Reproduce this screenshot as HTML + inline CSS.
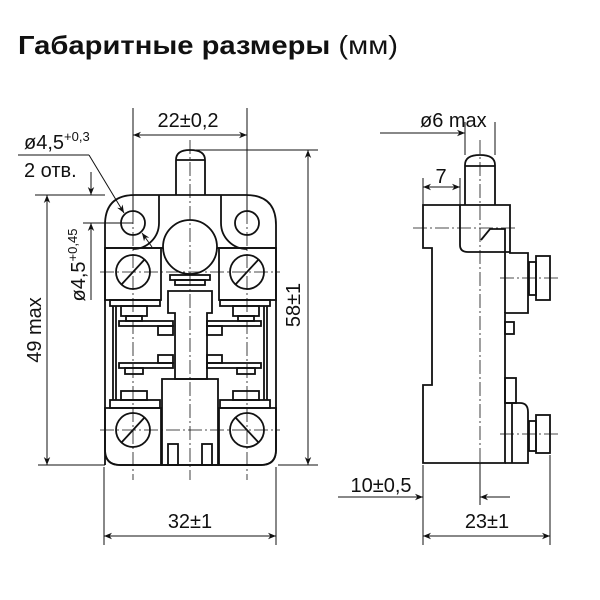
<!DOCTYPE html>
<html><head><meta charset="utf-8"><style>
html,body{margin:0;padding:0;background:#fff;width:600px;height:600px;overflow:hidden}
svg{display:block}
text{font-family:"Liberation Sans","DejaVu Sans",sans-serif;fill:#111}
</style></head><body>
<svg width="600" height="600" viewBox="0 0 600 600" xmlns="http://www.w3.org/2000/svg">
<defs>
<marker id="a" viewBox="0 0 10 10" refX="10" refY="5" markerWidth="10" markerHeight="8" orient="auto-start-reverse" markerUnits="userSpaceOnUse"><path d="M0,1 L10,5 L0,9 L3,5z" fill="#111"/></marker>
</defs>
<text x="18" y="54" font-size="26" font-weight="bold" textLength="380" lengthAdjust="spacingAndGlyphs">Габаритные размеры <tspan font-weight="normal">(мм)</tspan></text>

<g fill="none" stroke="#111" stroke-width="1.8">
<!-- front view body -->
<path d="M105,465 V225 Q105,195 135,195 H246 Q276,195 276,225 V450 Q276,465 261,465 H120 Q105,465 105,450 Z"/>
<path d="M176,195 V160 Q176,150 190,150 Q205,150 205,160 V195"/>
<line x1="176" y1="160" x2="205" y2="160"/>
<line x1="159" y1="195" x2="159" y2="223"/><line x1="221" y1="195" x2="221" y2="223"/>
<line x1="105" y1="248" x2="163" y2="248"/><line x1="217" y1="248" x2="276" y2="248"/>
<path d="M159,223 A26,26 0 0 1 133,249"/>
<path d="M221,223 A26,26 0 0 0 247,249"/>
<circle cx="133" cy="223" r="12"/><circle cx="247" cy="223" r="12"/>
<circle cx="190" cy="247" r="27"/>
<!-- upper screw blocks -->
<rect x="105" y="248" width="56" height="52"/><rect x="219" y="248" width="57" height="52"/>
<circle cx="133" cy="272" r="17"/><line x1="121" y1="285" x2="145" y2="259"/>
<circle cx="247" cy="272" r="17"/><line x1="235" y1="285" x2="259" y2="259"/>
<rect x="170" y="275" width="40" height="5"/><rect x="175" y="280" width="30" height="5"/>
<!-- shaft -->
<path d="M168,291 H212 V313 H207 V379 H175 V313 H168 Z"/>
<rect x="110" y="300" width="50" height="6"/><rect x="220" y="300" width="50" height="6"/>
<rect x="121" y="306" width="26" height="10"/><rect x="233" y="306" width="26" height="10"/>
<rect x="126" y="316" width="16" height="5"/><rect x="238" y="316" width="16" height="5"/>
<rect x="119" y="321" width="54" height="5"/><rect x="207" y="321" width="54" height="5"/>
<rect x="158" y="326" width="15" height="9"/><rect x="207" y="326" width="15" height="9"/>
<rect x="158" y="355" width="15" height="8"/><rect x="207" y="355" width="15" height="8"/>
<rect x="119" y="363" width="54" height="5"/><rect x="207" y="363" width="54" height="5"/>
<rect x="125" y="368" width="18" height="6"/><rect x="237" y="368" width="18" height="6"/>
<line x1="113" y1="306" x2="113" y2="400"/><line x1="116" y1="306" x2="116" y2="400"/>
<line x1="264" y1="306" x2="264" y2="400"/><line x1="267" y1="306" x2="267" y2="400"/>
<rect x="121" y="391" width="26" height="9"/><rect x="233" y="391" width="26" height="9"/>
<rect x="110" y="400" width="50" height="8"/><rect x="220" y="400" width="50" height="8"/>
<!-- lower blocks -->
<path d="M105,408 H161 V465 H120 Q105,465 105,450 Z"/><path d="M219,408 H276 V450 Q276,465 261,465 H219 Z"/>
<circle cx="133" cy="430" r="17"/><line x1="121" y1="443" x2="145" y2="417"/>
<circle cx="247" cy="430" r="17"/><line x1="235" y1="417" x2="259" y2="443"/>
<rect x="162" y="379" width="56" height="86"/>
<rect x="168" y="444" width="10" height="21"/><rect x="202" y="444" width="10" height="21"/>

<!-- side view -->
<path d="M423,205 H510 V253 H528 V313 H505 V463 H423 V385 H432 V248 H423 Z"/>
<path d="M465,205 V165 Q465,155 480,155 Q495,155 495,165 V205"/>
<line x1="465" y1="166" x2="495" y2="166"/>
<path d="M460,205 V245 Q460,252 468,252 H510"/>
<path d="M481,240 L490,229 H505 V253"/>
<line x1="505" y1="253" x2="505" y2="313"/>
<rect x="529" y="262" width="7" height="33"/><rect x="536" y="256" width="14" height="44"/>
<rect x="505" y="322" width="9" height="12"/>
<rect x="505" y="378" width="11" height="25"/>
<path d="M505,403 H520 Q528,403 528,412 V463 H505"/>
<line x1="512" y1="403" x2="512" y2="463"/>
<rect x="529" y="421" width="7" height="30"/><rect x="536" y="415" width="14" height="38"/>
</g>

<!-- center lines -->
<g stroke="#111" stroke-width="0.8" fill="none" stroke-dasharray="14,3,2,3">
<line x1="190" y1="140" x2="190" y2="480"/>
<line x1="133" y1="210" x2="133" y2="480"/><line x1="247" y1="210" x2="247" y2="480"/>
<line x1="480" y1="140" x2="480" y2="470"/>
<line x1="413" y1="228" x2="517" y2="228"/>
<line x1="100" y1="272" x2="280" y2="272"/><line x1="100" y1="430" x2="280" y2="430"/>
<line x1="500" y1="278" x2="558" y2="278"/><line x1="500" y1="434" x2="558" y2="434"/>
</g>

<!-- dimension lines -->
<g stroke="#111" stroke-width="1" fill="none">
<line x1="133" y1="108" x2="133" y2="212"/><line x1="247" y1="108" x2="247" y2="212"/>
<line x1="133" y1="135" x2="247" y2="135" marker-start="url(#a)" marker-end="url(#a)"/>
<line x1="196" y1="150" x2="318" y2="150"/><line x1="278" y1="465" x2="318" y2="465"/>
<line x1="308" y1="150" x2="308" y2="465" marker-start="url(#a)" marker-end="url(#a)"/>
<line x1="35" y1="195" x2="105" y2="195"/><line x1="38" y1="465" x2="105" y2="465"/>
<line x1="47" y1="195" x2="47" y2="465" marker-start="url(#a)" marker-end="url(#a)"/>
<line x1="83" y1="223" x2="133" y2="223"/>
<line x1="91" y1="172" x2="91" y2="195" marker-end="url(#a)"/>
<line x1="91" y1="300" x2="91" y2="223" marker-end="url(#a)"/>
<line x1="18" y1="155" x2="89" y2="155"/>
<line x1="89" y1="155" x2="124" y2="213" marker-end="url(#a)"/>
<line x1="152" y1="247" x2="142" y2="233" marker-end="url(#a)"/>
<line x1="104" y1="467" x2="104" y2="545"/><line x1="276" y1="467" x2="276" y2="545"/>
<line x1="104" y1="536" x2="276" y2="536" marker-start="url(#a)" marker-end="url(#a)"/>
<line x1="423" y1="465" x2="423" y2="545"/><line x1="550" y1="455" x2="550" y2="545"/>
<line x1="423" y1="536" x2="550" y2="536" marker-start="url(#a)" marker-end="url(#a)"/>
<line x1="338" y1="497" x2="423" y2="497" marker-end="url(#a)"/>
<line x1="510" y1="497" x2="480" y2="497" marker-end="url(#a)"/>
<line x1="480" y1="463" x2="480" y2="505"/>
<line x1="465" y1="122" x2="465" y2="155"/><line x1="495" y1="122" x2="495" y2="155"/>
<line x1="380" y1="133" x2="465" y2="133" marker-end="url(#a)"/>
<line x1="423" y1="178" x2="423" y2="205"/><line x1="460" y1="178" x2="460" y2="205"/>
<line x1="423" y1="187" x2="460" y2="187" marker-start="url(#a)" marker-end="url(#a)"/>
</g>

<g font-size="20">
<text x="188" y="127" text-anchor="middle">22±0,2</text>
<text x="24" y="149">ø4,5<tspan font-size="13" dy="-8">+0,3</tspan></text>
<text x="24" y="177">2 отв.</text>
<text x="190" y="528" text-anchor="middle">32±1</text>
<text x="487" y="528" text-anchor="middle">23±1</text>
<text x="381" y="492" text-anchor="middle">10±0,5</text>
<text x="420" y="127">ø6 max</text>
<text x="441" y="183" text-anchor="middle">7</text>
<text transform="translate(41,330) rotate(-90)" text-anchor="middle">49 max</text>
<text transform="translate(85,265) rotate(-90)" text-anchor="middle">ø4,5<tspan font-size="13" dy="-8">+0,45</tspan></text>
<text transform="translate(300,305) rotate(-90)" text-anchor="middle">58±1</text>
</g>
</svg>
</body></html>
